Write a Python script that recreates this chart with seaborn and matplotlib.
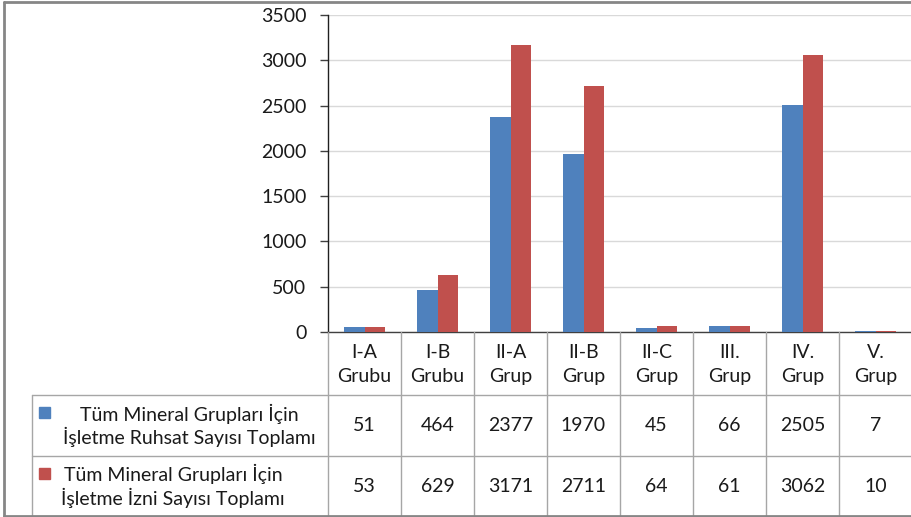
import matplotlib
matplotlib.use("Agg")
import matplotlib.pyplot as plt
from matplotlib.transforms import blended_transform_factory
from matplotlib.lines import Line2D
import seaborn as sns
import pandas as pd

# Chart data
categories = ["I-A\nGrubu", "I-B\nGrubu", "II-A\nGrup", "II-B\nGrup",
              "II-C\nGrup", "III.\nGrup", "IV.\nGrup", "V.\nGrup"]
series_names = ["Tüm Mineral Grupları İçin\nİşletme Ruhsat Sayısı Toplamı",
                "Tüm Mineral Grupları İçin\nİşletme İzni Sayısı Toplamı"]
ruhsat = [51, 464, 2377, 1970, 45, 66, 2505, 7]
izin = [53, 629, 3171, 2711, 64, 61, 3062, 10]
y_ticks = [0, 500, 1000, 1500, 2000, 2500, 3000, 3500]
colors = ["#4F81BD", "#C0504D"]

sns.set_theme(style="white")
plt.rcParams["font.family"] = ["Lato", "DejaVu Sans"]

df = pd.DataFrame({
    "grup": categories * 2,
    "seri": [series_names[0]] * len(categories) + [series_names[1]] * len(categories),
    "deger": ruhsat + izin,
})

W, H = 911, 517
FS = 14
TXT = "#1a1a1a"
fig = plt.figure(figsize=(W / 100, H / 100), dpi=100)
fig.patch.set_facecolor("white")

# plot area in pixel terms
left_px, right_px, top_px, base_px = 328, 912, 15, 332
ax = fig.add_axes([left_px / W, 1 - base_px / H,
                   (right_px - left_px) / W, (base_px - top_px) / H])

sns.barplot(data=df, x="grup", y="deger", hue="seri", palette=colors,
            saturation=1, width=0.575, linewidth=0, legend=False, ax=ax,
            zorder=3)

ax.set_xlim(-0.5, len(categories) - 0.5)
ax.set_ylim(0, 3500)
ax.set_yticks(y_ticks)
ax.set_yticklabels([str(v) for v in y_ticks], fontsize=FS, color=TXT)
ax.set_xticks([])
ax.set_xlabel("")
ax.set_ylabel("")
ax.yaxis.grid(True, color="#d9d9d9", linewidth=1.0, zorder=0)
ax.set_axisbelow(True)
ax.tick_params(axis="y", which="both", left=True, length=6, width=1.0,
               color="#404040", pad=9.5)
for s in ["top", "right"]:
    ax.spines[s].set_visible(False)
ax.spines["left"].set_color("#202020")
ax.spines["left"].set_linewidth(1.0)
ax.spines["bottom"].set_color("#404040")
ax.spines["bottom"].set_linewidth(1.0)

# overlay in pixel coordinates for the data table and frame
tab = fig.add_axes([0, 0, 1, 1], facecolor="none")
tab.set_xlim(0, W)
tab.set_ylim(H, 0)
tab.axis("off")
mix = blended_transform_factory(ax.transData, tab.transData)

grid_c = "#a6a6a6"
row_cat = (332, 395)
row1 = (395, 456)
row2 = (456, 516)
n = len(categories)

# vertical cell borders
for i in range(n + 1):
    tab.add_line(Line2D([i - 0.5, i - 0.5], [row_cat[0], row2[1]],
                        transform=mix, color=grid_c, linewidth=1.0))
# horizontal cell borders
for y in (row1[0], row2[0]):
    tab.plot([32, W], [y, y], color=grid_c, linewidth=1.0)
tab.plot([32, 32], [row1[0], row2[1]], color=grid_c, linewidth=1.0)

# category headers and values
for i, cat in enumerate(categories):
    tab.text(i, sum(row_cat) / 2 + 1, cat, transform=mix, ha="center",
             va="center", fontsize=FS, color=TXT, linespacing=1.45)
    tab.text(i, sum(row1) / 2, str(ruhsat[i]), transform=mix, ha="center",
             va="center", fontsize=FS, color=TXT)
    tab.text(i, sum(row2) / 2, str(izin[i]), transform=mix, ha="center",
             va="center", fontsize=FS, color=TXT)

# legend keys and series names
for (r, name, c, cx) in [(row1, series_names[0], colors[0], 189),
                         (row2, series_names[1], colors[1], 173)]:
    yc = sum(r) / 2
    key_y = r[0] + 17
    tab.add_patch(plt.Rectangle((39, key_y - 5.5), 11, 11, color=c))
    tab.text(cx, yc, name, ha="center", va="center", multialignment="center",
             fontsize=FS, color=TXT, linespacing=1.2)

# outer frame
frame_c = "#868686"
tab.plot([4, 4], [2, 516], color=frame_c, linewidth=2)
tab.plot([4, W], [2, 2], color=frame_c, linewidth=2)
tab.plot([4, W], [516, 516], color=frame_c, linewidth=2)

fig.savefig("out.png", dpi=100)
